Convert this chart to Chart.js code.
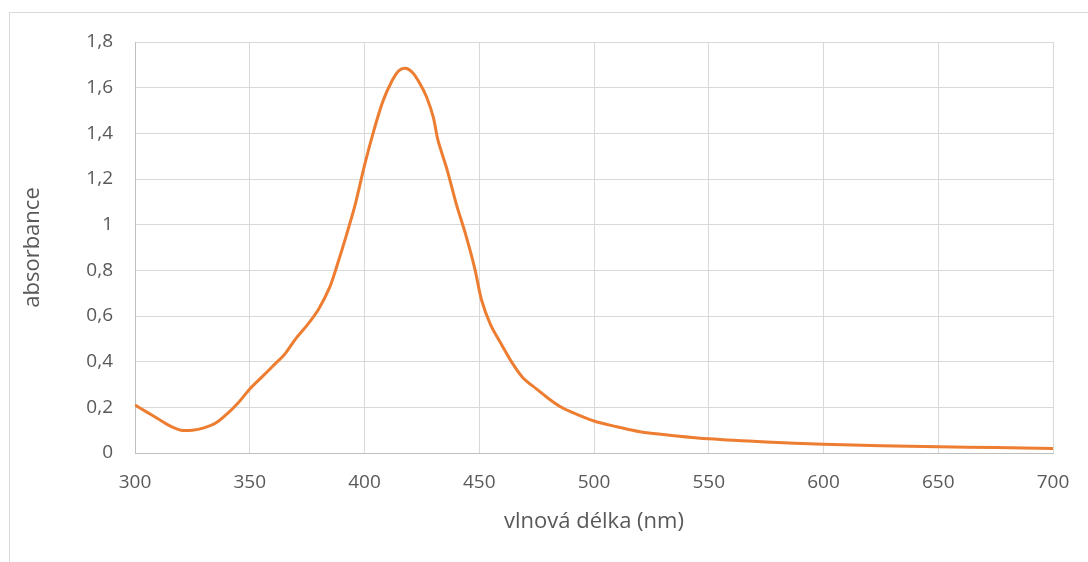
<!DOCTYPE html>
<html>
<head>
<meta charset="utf-8">
<script src="https://cdn.jsdelivr.net/npm/chart.js@4"></script>
<style>
  html, body { margin: 0; padding: 0; background: #fff; overflow: hidden; }
  .frame { position: absolute; left: 9px; top: 12px; width: 1200px; height: 700px;
           border-left: 1px solid #d9d9d9; border-top: 1px solid #d9d9d9; }
  .wrap { position: absolute; left: 0; top: 0; width: 1088px; height: 562px; }
</style>
</head>
<body>
<div class="frame"></div>
<div class="wrap"><canvas id="spectrum" width="1088" height="562"></canvas></div>
<script>
// vlnová délka (nm)
const wavelengths = [300, 305, 310, 315, 320, 325, 330, 335, 340, 345, 350, 355, 360, 365, 370, 375, 380, 385, 388, 392, 396, 400, 404, 408, 412, 415, 418, 421, 424, 427, 430, 432, 436, 440, 444, 448, 451, 455, 460, 464, 469, 475, 480, 485, 490, 500, 510, 520, 535, 550, 575, 600, 625, 650, 675, 700];
// absorbance
const absorbance = [0.21, 0.18, 0.15, 0.12, 0.10, 0.10, 0.11, 0.13, 0.17, 0.22, 0.28, 0.33, 0.38, 0.43, 0.50, 0.56, 0.63, 0.73, 0.82, 0.95, 1.09, 1.26, 1.41, 1.54, 1.63, 1.675, 1.685, 1.665, 1.62, 1.56, 1.47, 1.37, 1.24, 1.09, 0.96, 0.81, 0.67, 0.56, 0.47, 0.40, 0.33, 0.28, 0.24, 0.205, 0.18, 0.14, 0.115, 0.093, 0.076, 0.062, 0.048, 0.038, 0.032, 0.027, 0.024, 0.02];

const xTitle = 'vlnová délka (nm)';
const yTitle = 'absorbance';

const points = wavelengths.map((w, i) => ({ x: w, y: absorbance[i] }));

const tickFont = { family: '"Open Sans", "Noto Sans", sans-serif', size: 19 };
const titleFont = { family: '"Open Sans", "Noto Sans", sans-serif', size: 22 };

new Chart(document.getElementById('spectrum'), {
  type: 'line',
  data: {
    datasets: [{
      data: points,
      borderColor: '#ed7d31',
      borderWidth: 3,
      pointRadius: 0,
      tension: 0.3,
      fill: false,
    }],
  },
  options: {
    animation: false,
    responsive: false,
    layout: { padding: { top: 42, right: 35, left: 0, bottom: 0 } },
    plugins: { legend: { display: false }, tooltip: { enabled: false } },
    scales: {
      x: {
        type: 'linear',
        min: 300,
        max: 700,
        ticks: { stepSize: 50, color: '#595959', font: tickFont, padding: 18 },
        grid: { color: '#d9d9d9', drawTicks: false },
        border: { color: '#bfbfbf' },
        title: { display: true, text: xTitle, color: '#595959', font: titleFont, padding: { top: 0, bottom: 27 } },
        afterFit: (scale) => { scale.height = 109; },
      },
      y: {
        min: 0,
        max: 1.8,
        ticks: {
          stepSize: 0.2,
          color: '#595959',
          font: tickFont,
          padding: 22,
          callback: (v) => Number(v.toFixed(1)).toString().replace('.', ','),
        },
        grid: { color: '#d9d9d9', drawTicks: false },
        border: { color: '#bfbfbf' },
        title: { display: true, text: yTitle, color: '#595959', font: titleFont, padding: { top: 20, bottom: 0 } },
        afterFit: (scale) => { scale.width = 135; },
      },
    },
  },
});
</script>
</body>
</html>
